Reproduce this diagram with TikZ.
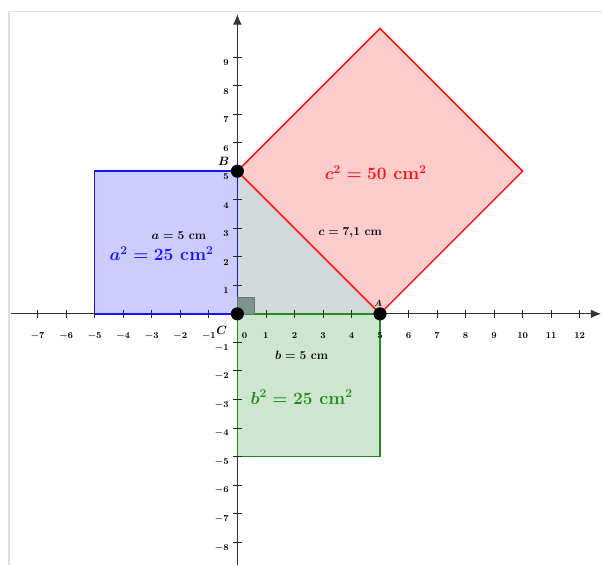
\documentclass[tikz,border=0pt]{standalone}
\usepackage{amsmath,amssymb}
\usepackage{tikz}
\usetikzlibrary{arrows.meta, positioning, calc}

\definecolor{sqblue}{RGB}{20,20,255}
\definecolor{sqbluefill}{RGB}{204,204,255}
\definecolor{sqgreen}{RGB}{30,140,30}
\definecolor{sqgreenfill}{RGB}{206,230,206}
\definecolor{sqred}{RGB}{255,20,20}
\definecolor{sqredfill}{RGB}{255,204,204}
\definecolor{trifill}{RGB}{212,217,217}
\definecolor{rightfill}{RGB}{125,148,138}

\begin{document}
\begin{tikzpicture}[
    axis/.style={-{Latex[length=3.6mm,width=3mm]}, black!80, line width=0.9pt},
    tickmark/.style={black!85, line width=0.8pt},
    ticklab/.style={font=\fontsize{9.5}{11}\selectfont\boldmath, inner sep=0pt},
    bluesq/.style={draw=sqblue, fill=sqbluefill, line width=1.5pt},
    greensq/.style={draw=sqgreen, fill=sqgreenfill, line width=1.5pt},
    redsq/.style={draw=sqred, fill=sqredfill, line width=1.5pt},
    pt/.style={circle, fill=black, inner sep=0pt, minimum size=4.6mm},
    sidelab/.style={font=\large\bfseries\boldmath, inner sep=1pt},
    arealab/.style={font=\fontsize{18}{21}\selectfont\bfseries\boldmath, inner sep=1pt},
    frame/.style={black!12, line width=1.5pt}
]
\useasboundingbox (-8.32,-8.81) rectangle (12.78,11.0);
% frame of the graphics view
\coordinate (f1) at (-8.0,-8.81);
\coordinate (f2) at (-8.0,10.6);
\coordinate (f3) at (12.78,10.6);
\draw[frame] (f1) -- (f2) -- (f3);

% vertices
\coordinate (C) at (0,0);
\coordinate (A) at (5,0);
\coordinate (B) at (0,5);
\coordinate (a1) at (-5,5);
\coordinate (a2) at (-5,0);
\coordinate (b1) at (0,-5);
\coordinate (b2) at (5,-5);
\coordinate (c1) at (10,5);
\coordinate (c2) at (5,10);

% axes
\coordinate (xs) at (-7.95,0);
\coordinate (xe) at (12.75,0);
\coordinate (ys) at (0,-8.81);
\coordinate (ye) at (0,10.5);
\draw[axis] (xs) -- (xe);
\draw[axis] (ys) -- (ye);

% squares and triangle
\fill[trifill] (C) -- (A) -- (B) -- cycle;
\draw[bluesq] (C) -- (a2) -- (a1) -- (B) -- cycle;
\draw[greensq] (C) -- (A) -- (b2) -- (b1) -- cycle;
\draw[redsq] (B) -- (A) -- (c1) -- (c2) -- cycle;
\coordinate (r1) at (0.6,0.6);
\filldraw[fill=rightfill, draw=rightfill!80!black, line width=0.4pt] (C) rectangle (r1);

% ticks
\foreach \x in {-7,...,-1,1,2,...,12} {
  \draw[tickmark] (\x,-0.15) -- (\x,0.15);
  \node[ticklab] (xl\x) at (\x,-0.78) {$\x$};
}
\foreach \y in {-8,...,-1,1,2,...,9} {
  \draw[tickmark] (-0.15,\y) -- (0.15,\y);
  \node[ticklab, anchor=east] (yl\y) at (-0.3,\y-0.2) {$\y$};
}
\node[ticklab] (xl0) at (0.25,-0.78) {$0$};

% points
\node[pt] (pC) at (C) {};
\node[pt] (pA) at (A) {};
\node[pt] (pB) at (B) {};
\node[font=\large\bfseries\boldmath] (lC) at (-0.55,-0.58) {$C$};
\node[font=\large\bfseries\boldmath] (lB) at (-0.48,5.35) {$B$};
\node[font=\small\bfseries\boldmath] (lA) at (4.93,0.36) {$A$};

% labels
\node[sidelab] (la) at (-2.05,2.75) {$a = 5$ cm};
\node[sidelab] (lb) at (2.25,-1.45) {$b = 5$ cm};
\node[sidelab] (lc) at (3.95,2.85) {$c = 7{,}1$ cm};
\node[arealab, text=sqblue] (la2) at (-2.66,2.1) {$a^2 = 25$ cm$^2$};
\node[arealab, text=sqgreen] (lb2) at (2.25,-2.92) {$b^2 = 25$ cm$^2$};
\node[arealab, text=sqred] (lc2) at (4.85,4.95) {$c^2 = 50$ cm$^2$};
\end{tikzpicture}
\end{document}
